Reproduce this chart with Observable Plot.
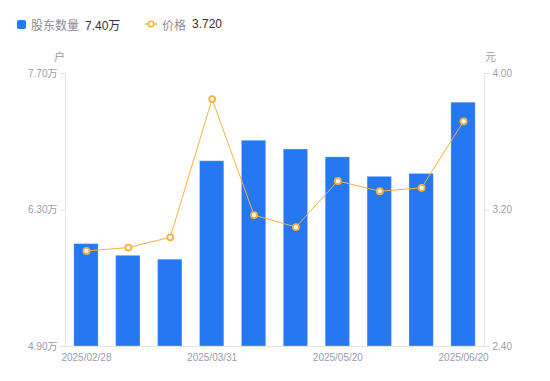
<!DOCTYPE html>
<html><head><meta charset="utf-8">
<script src="https://cdn.jsdelivr.net/npm/d3@7"></script>
<script src="https://cdn.jsdelivr.net/npm/@observablehq/plot@0.6"></script>
<style>
body{margin:0;background:#fff;font-family:"Liberation Sans","Noto Sans CJK SC",sans-serif;}
#legend{position:relative;height:40px;width:550px;font-size:12px;}
.item{position:absolute;top:16px;display:flex;align-items:center;height:16px;}
.lab{color:#8a8c98;margin-right:6px;}
.val{color:#333;}
</style></head>
<body>
<div id="legend"></div>
<div id="chart"></div>
<script>
const dates = ["2025/02/28","2025/03/10","2025/03/20","2025/03/31","2025/04/10","2025/04/30","2025/05/20","2025/05/31","2025/06/10","2025/06/20"];
const holders = [5.95,5.83,5.79,6.80,7.01,6.92,6.84,6.64,6.67,7.40]; // 万户
const prices = [2.96,2.98,3.04,3.85,3.17,3.10,3.37,3.31,3.33,3.72]; // 元
const xTickLabels = ["2025/02/28","2025/03/31","2025/05/20","2025/06/20"];
const leftTicks = [4.90,6.30,7.70];
const rightTicks = [2.40,3.20,4.00];

const blue = "#2677f2", orange = "#f7b23b";
const gridC = "#e3e4ea", textC = "#9a9cab";
const yMin = 4.90, yMax = 7.70, pMin = 2.40, pMax = 4.00;
const pToY = p => yMin + (p - pMin) * (yMax - yMin) / (pMax - pMin);

const data = dates.map((d,i)=>({date:d, holders:holders[i], price:prices[i]}));

// legend
const lg = document.getElementById("legend");
lg.innerHTML = `
<div class="item" style="left:17px"><span style="display:inline-block;width:9px;height:9px;background:${blue};border-radius:2px;margin-right:5px"></span><span class="lab">股东数量</span><span class="val">${holders[holders.length-1].toFixed(2)}万</span></div>
<div class="item" style="left:145px"><svg width="12" height="10" style="margin-right:5px"><line x1="0" y1="5" x2="12" y2="5" stroke="${orange}" stroke-width="1.5"/><circle cx="6" cy="5" r="2.7" fill="#fff" stroke="${orange}" stroke-width="1.6"/></svg><span class="lab">价格</span><span class="val">${prices[prices.length-1].toFixed(3)}</span></div>`;

const chart = Plot.plot({
  width: 550, height: 341,
  marginTop: 33, marginBottom: 35, marginLeft: 65, marginRight: 66,
  style: {fontFamily: '"Liberation Sans","Noto Sans CJK SC",sans-serif', fontSize: "10px"},
  x: {type: "band", domain: dates, paddingInner: 0.42, paddingOuter: 0.21, round: false},
  y: {domain: [yMin, yMax]},
  marks: [
    Plot.frame({anchor: "left", stroke: gridC}),
    Plot.frame({anchor: "right", stroke: gridC}),
    Plot.frame({anchor: "bottom", stroke: gridC}),
    Plot.barY(data, {x: "date", y1: yMin, y2: "holders", fill: blue, stroke: "#fff", strokeOpacity: 0.25, strokeWidth: 1}),
    Plot.line(data, {x: "date", y: d => pToY(d.price), stroke: orange, strokeWidth: 1}),
    Plot.dot(data, {x: "date", y: d => pToY(d.price), r: 3, fill: "#fff", stroke: orange, strokeWidth: 1.8}),
    Plot.axisX({ticks: xTickLabels, tickSize: 0, tickPadding: 7, fill: textC, fontSize: 10, label: null}),
    Plot.axisY({anchor: "left", ticks: leftTicks, tickSize: 5, tickPadding: 3, stroke: gridC, fill: textC, fontSize: 10, label: null, tickFormat: d => d.toFixed(2) + "万"}),
    Plot.axisY({anchor: "right", ticks: rightTicks.map(pToY), tickSize: 5, tickPadding: 3, stroke: gridC, fill: textC, fontSize: 10, label: null, tickFormat: d => ((d - yMin) * (pMax - pMin) / (yMax - yMin) + pMin).toFixed(2)}),
    Plot.text(["户"], {frameAnchor: "top-left", textAnchor: "middle", lineAnchor: "middle", dx: -6, dy: -16, fill: textC, fontSize: 11}),
    Plot.text(["元"], {frameAnchor: "top-right", textAnchor: "middle", lineAnchor: "middle", dx: 6, dy: -16, fill: textC, fontSize: 11})
  ]
});
document.getElementById("chart").appendChild(chart);
</script>
</body></html>
